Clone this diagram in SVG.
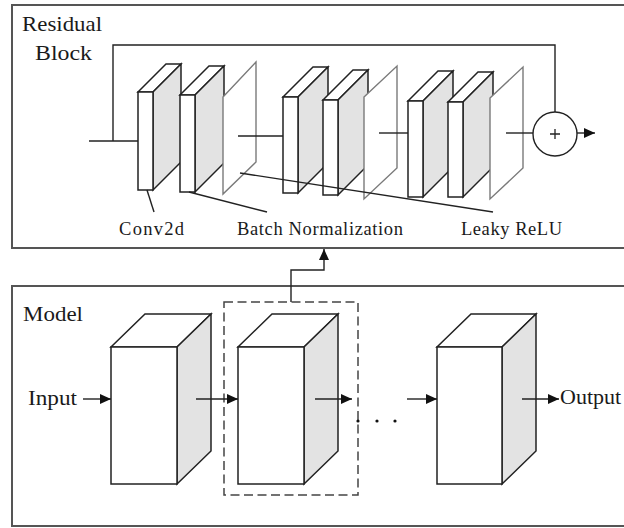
<svg xmlns="http://www.w3.org/2000/svg" width="624" height="528" viewBox="0 0 624 528">
  <defs>
    <marker id="arrow" markerUnits="userSpaceOnUse" markerWidth="12" markerHeight="10" refX="11" refY="5" orient="auto">
      <path d="M0,0 L11,5 L0,10 Z" fill="#111"/>
    </marker>
    <style>
      .frame { fill: #fff; stroke: #555; stroke-width: 2; }
      .front { fill: #fff; stroke: #222; stroke-width: 1.5; stroke-linejoin: miter; }
      .side { fill: #e3e3e3; stroke: #222; stroke-width: 1.5; stroke-linejoin: miter; }
      .plane { fill: #fff; stroke: #7a7a7a; stroke-width: 1.4; }
      .wire { fill: none; stroke: #222; stroke-width: 1.4; }
      .dash { fill: none; stroke: #444; stroke-width: 1.5; stroke-dasharray: 9 4.5; }
      .title { font-family: "Liberation Serif", "Times New Roman", serif; font-size: 22px; fill: #1a1a1a; }
      .label { font-family: "Liberation Serif", "Times New Roman", serif; font-size: 18.5px; fill: #1a1a1a; }
    </style>
  </defs>

  <!-- outer frames -->
  <rect class="frame" x="12" y="5" width="620" height="243"/>
  <rect class="frame" x="12" y="286" width="620" height="240"/>

  <text class="title" x="22" y="31" textLength="80" lengthAdjust="spacingAndGlyphs">Residual</text>
  <text class="title" x="35" y="60" textLength="57" lengthAdjust="spacingAndGlyphs">Block</text>
  <text class="title" x="23" y="321" textLength="60" lengthAdjust="spacingAndGlyphs">Model</text>

  <!-- residual block layers -->
  <g id="conv-1">
    <polygon class="front" points="138,92 153,92 181,64 166,64"/>
    <polygon class="side" points="153,92 181,64 181,162 153,190"/>
    <rect class="front" x="138" y="92" width="15" height="98"/>
  </g>
  <g id="bn-1">
    <polygon class="front" points="180,95 195,95 224,66 209,66"/>
    <polygon class="side" points="195,95 224,66 224,163 195,192"/>
    <rect class="front" x="180" y="95" width="15" height="97"/>
  </g>
  <g id="relu-1">
    <polygon class="plane" points="223,97 256,62 256,162 223,194"/>
  </g>
  <g id="conv-2">
    <polygon class="front" points="283,97 298,97 328,67 313,67"/>
    <polygon class="side" points="298,97 328,67 328,163 298,193"/>
    <rect class="front" x="283" y="97" width="15" height="96"/>
  </g>
  <g id="bn-2">
    <polygon class="front" points="323,100 338,100 368,70 353,70"/>
    <polygon class="side" points="338,100 368,70 368,165 338,195"/>
    <rect class="front" x="323" y="100" width="15" height="95"/>
  </g>
  <g id="relu-2">
    <polygon class="plane" points="364,97 397,66 397,168 364,199"/>
  </g>
  <g id="conv-3">
    <polygon class="front" points="408,101 423,101 453,71 438,71"/>
    <polygon class="side" points="423,101 453,71 453,167 423,197"/>
    <rect class="front" x="408" y="101" width="15" height="96"/>
  </g>
  <g id="bn-3">
    <polygon class="front" points="448,102 463,102 493,72 478,72"/>
    <polygon class="side" points="463,102 493,72 493,167 463,197"/>
    <rect class="front" x="448" y="102" width="15" height="95"/>
  </g>
  <g id="relu-3">
    <polygon class="plane" points="490,98 523,67 523,168 490,199"/>
  </g>
  <g id="add">
    <circle cx="555" cy="134" r="22" fill="#fff" stroke="#222" stroke-width="1.4"/>
    <path d="M550,134 H560 M555,129 V139" stroke="#222" stroke-width="1.3"/>
  </g>

  <!-- model layers -->
  <g id="layer-1">
    <polygon class="front" points="111,347 177,347 211,314 145,314"/>
    <polygon class="side" points="177,347 211,314 211,451 177,484"/>
    <rect class="front" x="111" y="347" width="66" height="137"/>
  </g>
  <g id="layer-2">
    <polygon class="front" points="238,347 304,347 338,314 272,314"/>
    <polygon class="side" points="304,347 338,314 338,451 304,484"/>
    <rect class="front" x="238" y="347" width="66" height="137"/>
  </g>
  <g id="layer-n">
    <polygon class="front" points="437,347 502,347 536,314 471,314"/>
    <polygon class="side" points="502,347 536,314 536,451 502,484"/>
    <rect class="front" x="437" y="347" width="65" height="137"/>
  </g>
  <g id="selection">
    <rect class="dash" x="224" y="302" width="134" height="193"/>
  </g>

  <!-- connectors -->
  <g id="connectors">
    <path class="wire" d="M89,141 H138"/>
    <path class="wire" d="M113,141 V45 H555 V112"/>
    <path class="wire" d="M238,136 H283"/>
    <path class="wire" d="M379,133 H408"/>
    <path class="wire" d="M506,133 H533"/>
    <path class="wire" d="M577,133 H595" marker-end="url(#arrow)"/>
    <path class="wire" d="M147,190 L154,212"/>
    <path class="wire" d="M189,192 L267,212"/>
    <path class="wire" d="M240,173 L493,212"/>

    <path class="wire" d="M291,302 V270 H324 V249" marker-end="url(#arrow)"/>
    <path class="wire" d="M83,399 H111" marker-end="url(#arrow)"/>
    <path class="wire" d="M196,399 H238" marker-end="url(#arrow)"/>
    <path class="wire" d="M315,399 H352" marker-end="url(#arrow)"/>
    <path class="wire" d="M407,399 H437" marker-end="url(#arrow)"/>
    <path class="wire" d="M522,399 H559" marker-end="url(#arrow)"/>
    <circle cx="358" cy="421" r="1.6" fill="#111"/>
    <circle cx="377" cy="421" r="1.6" fill="#111"/>
    <circle cx="395" cy="421" r="1.6" fill="#111"/>
  </g>

  <!-- labels -->
  <text class="label" x="119" y="235" textLength="65" lengthAdjust="spacing">Conv2d</text>
  <text class="label" x="237" y="235" textLength="166" lengthAdjust="spacing">Batch Normalization</text>
  <text class="label" x="461" y="235" textLength="101" lengthAdjust="spacing">Leaky ReLU</text>
  <text class="title" x="28" y="405" textLength="49" lengthAdjust="spacingAndGlyphs">Input</text>
  <text class="title" x="560" y="404">Output</text>
</svg>
